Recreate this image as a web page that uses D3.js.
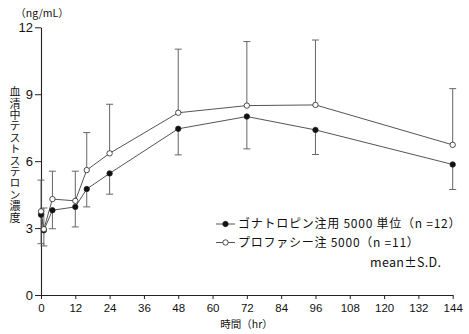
<!DOCTYPE html>
<html><head><meta charset="utf-8">
<script src="https://cdn.jsdelivr.net/npm/d3@7"></script>
<style>
html,body{margin:0;padding:0;background:#fff;}
text{font-family:"Liberation Sans","Noto Sans CJK JP",sans-serif;fill:#111;}
.cjk{font-family:"Noto Sans CJK JP",sans-serif;}
</style>
</head><body>
<svg id="chart" width="469" height="334"></svg>
<script>
const times = [0, 1, 4, 12, 16, 24, 48, 72, 96, 144];
const gonaMean = [3.6, 2.9, 3.8, 3.95, 4.75, 5.45, 7.45, 8.0, 7.4, 5.85];
const gonaSD = [1.3, 0.7, 0.83, 0.9, 0.8, 0.93, 1.17, 1.45, 1.1, 1.12];
const profMean = [3.75, 2.95, 4.3, 4.22, 5.6, 6.35, 8.17, 8.49, 8.52, 6.73];
const profSD = [1.4, 0.95, 1.25, 1.33, 1.68, 2.2, 2.85, 2.87, 2.91, 2.52];
const xTicks = [0, 12, 24, 36, 48, 60, 72, 84, 96, 108, 120, 132, 144];
const yTicks = [0, 3, 6, 9, 12];
const legendLabels = ["ゴナトロピン注用 5000 単位（n =12）", "プロファシー注 5000（n =11）"];
const unitLabel = "（ng/mL）";
const yLabel = "血清中テストステロン濃度";
const xLabel = "時間（hr）";
const noteLabel = "mean±S.D.";

const svg = d3.select("#chart");
const x = d3.scaleLinear().domain([0, 144]).range([41, 452.7]);
const y = d3.scaleLinear().domain([0, 12]).range([295, 27.3]);

// axes
const xAxis = svg.append("g").attr("transform", `translate(0,${y(0)})`)
  .call(d3.axisBottom(x).tickValues(xTicks).tickSize(4).tickPadding(3).tickSizeOuter(0));
const yAxis = svg.append("g").attr("transform", `translate(${x(0)},0)`)
  .call(d3.axisLeft(y).tickValues(yTicks).tickSize(6).tickPadding(2).tickSizeOuter(0));
[xAxis, yAxis].forEach(a => {
  a.select(".domain").attr("stroke", "#222").attr("stroke-width", 1.1);
  a.selectAll(".tick line").attr("stroke", "#222");
  a.selectAll(".tick text").attr("font-family", "Liberation Sans, sans-serif").attr("font-size", 13).attr("fill", "#111");
});
xAxis.selectAll(".tick text").attr("font-size", 11.5).attr("dy", "0.85em");

const series = [
  {mean: gonaMean, sd: gonaSD, dir: -1, fill: "#111"},
  {mean: profMean, sd: profSD, dir: 1, fill: "#fff"}
];

const line = d3.line().x(d => x(d.t)).y(d => y(d.v));
const capW = 3.5;

// error bars
series.forEach(s => {
  const pts = times.map((t, i) => ({t, v: s.mean[i], e: s.mean[i] + s.dir * s.sd[i]}));
  const g = svg.append("g");
  g.selectAll("line.v").data(pts).join("line")
    .attr("x1", d => x(d.t)).attr("x2", d => x(d.t))
    .attr("y1", d => y(d.v)).attr("y2", d => y(d.e))
    .attr("stroke", "#666").attr("stroke-width", 1);
  g.selectAll("line.c").data(pts).join("line")
    .attr("x1", d => x(d.t) - capW).attr("x2", d => x(d.t) + capW)
    .attr("y1", d => y(d.e)).attr("y2", d => y(d.e))
    .attr("stroke", "#666").attr("stroke-width", 1);
});
// lines
series.forEach(s => {
  const pts = times.map((t, i) => ({t, v: s.mean[i]}));
  svg.append("path").datum(pts).attr("d", line)
    .attr("fill", "none").attr("stroke", "#555").attr("stroke-width", 1);
});
// markers
series.forEach(s => {
  const pts = times.map((t, i) => ({t, v: s.mean[i]}));
  svg.append("g").selectAll("circle").data(pts).join("circle")
    .attr("cx", d => x(d.t)).attr("cy", d => y(d.v)).attr("r", 2.7)
    .attr("fill", s.fill).attr("stroke", "#222").attr("stroke-width", 0.8);
});

// legend
const legY = [224, 242.5];
series.forEach((s, i) => {
  const g = svg.append("g");
  g.append("line").attr("x1", 216).attr("x2", 235).attr("y1", legY[i]).attr("y2", legY[i])
    .attr("stroke", "#555").attr("stroke-width", 1);
  g.append("circle").attr("cx", 225.5).attr("cy", legY[i]).attr("r", 2.7)
    .attr("fill", s.fill).attr("stroke", "#222").attr("stroke-width", 0.8);
  g.append("text").attr("class", "cjk").attr("x", 238).attr("y", legY[i]).attr("dy", "0.36em")
    .attr("font-size", 12).attr("letter-spacing", 0.75).text(legendLabels[i]);
});
svg.append("text").attr("class", "cjk").attr("x", 370).attr("y", 262.7).attr("dy", "0.36em")
  .attr("font-size", 12.5).attr("letter-spacing", 0.3).text(noteLabel);

// labels
svg.append("text").attr("class", "cjk").attr("x", 42).attr("y", 13.5).attr("dy", "0.36em")
  .attr("text-anchor", "middle").attr("font-size", 10.5).text(unitLabel);
svg.append("text").attr("class", "cjk").attr("x", 246.5).attr("y", 324).attr("dy", "0.36em")
  .attr("text-anchor", "middle").attr("font-size", 10.5).text(xLabel);
svg.append("text").attr("class", "cjk")
  .attr("transform", "translate(15,155)")
  .style("writing-mode", "vertical-rl").style("text-orientation", "upright")
  .attr("text-anchor", "middle").attr("font-size", 11).attr("letter-spacing", 0.4)
  .text(yLabel);
</script>
</body></html>
